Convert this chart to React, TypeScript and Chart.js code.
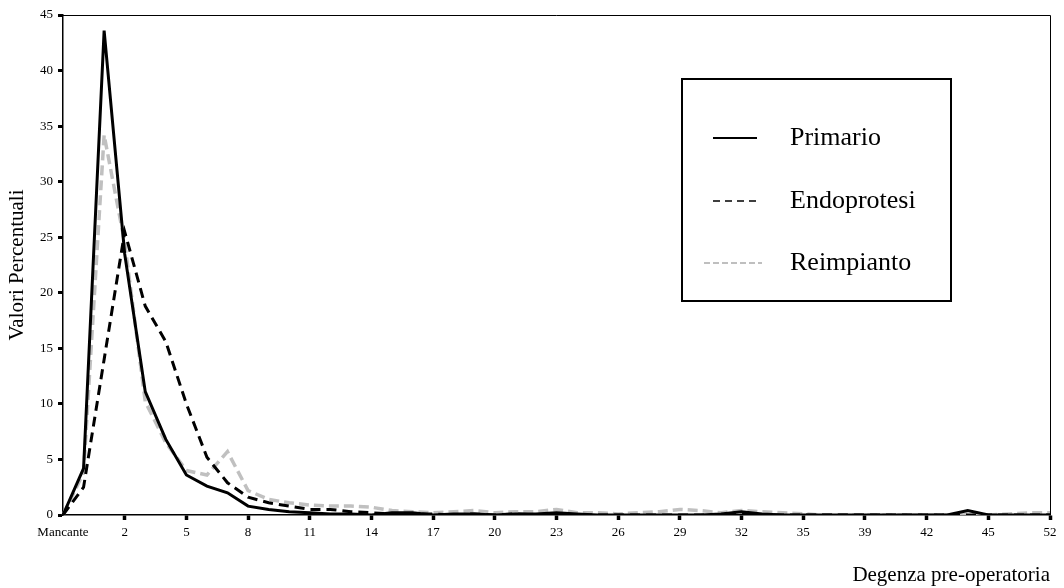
import { useEffect, useRef } from 'react'
import { Chart, registerables, type ChartConfiguration, type Plugin } from 'chart.js'

Chart.register(...registerables)

const serif = '"Liberation Serif", "Times New Roman", serif'

// categorie della degenza pre-operatoria (giorni)
const giorni = [
  'Mancante', '0', '1', '2', '3', '4', '5', '6', '7', '8', '9', '10', '11', '12', '13', '14',
  '15', '16', '17', '18', '19', '20', '21', '22', '23', '24', '25', '26', '27', '28', '29',
  '30', '31', '32', '33', '34', '35', '36', '38', '39', '40', '41', '42', '43', '44', '45',
  '47', '49', '52',
]

const primario = [
  0, 4.2, 43.6, 23.5, 11.1, 6.8, 3.6, 2.6, 2.0, 0.8, 0.5, 0.3, 0.2, 0.1, 0.1, 0.0,
  0.2, 0.2, 0.0, 0.1, 0.1, 0.0, 0.1, 0.1, 0.2, 0.1, 0.0, 0.0, 0.0, 0.0, 0.0,
  0.0, 0.1, 0.3, 0.1, 0.0, 0.0, 0.0, 0.0, 0.0, 0.0, 0.0, 0.0, 0.0, 0.4, 0.0,
  0.0, 0.0, 0.0,
]

const endoprotesi = [
  0, 2.5, 14.0, 25.5, 18.8, 15.6, 10.0, 5.2, 2.9, 1.6, 1.1, 0.8, 0.5, 0.5, 0.3, 0.2,
  0.1, 0.1, 0.1, 0.0, 0.1, 0.0, 0.1, 0.0, 0.1, 0.0, 0.0, 0.0, 0.0, 0.0, 0.0,
  0.0, 0.0, 0.1, 0.0, 0.0, 0.0, 0.0, 0.0, 0.0, 0.0, 0.0, 0.0, 0.0, 0.0, 0.0,
  0.0, 0.0, 0.0,
]

const reimpianto = [
  0, 3.8, 34.2, 24.5, 10.2, 6.5, 4.0, 3.6, 5.7, 2.2, 1.4, 1.1, 0.9, 0.8, 0.8, 0.7,
  0.4, 0.3, 0.2, 0.3, 0.4, 0.2, 0.3, 0.3, 0.5, 0.2, 0.2, 0.1, 0.2, 0.3, 0.5,
  0.4, 0.2, 0.4, 0.3, 0.2, 0.1, 0.0, 0.0, 0.0, 0.0, 0.0, 0.0, 0.0, 0.1, 0.0,
  0.1, 0.2, 0.2,
]

const yTicks = [0, 5, 10, 15, 20, 25, 30, 35, 40, 45]

// campioni della legenda: tratto, spessore, colore
const legendItems = [
  { label: 'Primario', color: '#000', width: 2, dash: [] as number[], x0: 713, x1: 757 },
  { label: 'Endoprotesi', color: '#000', width: 1.5, dash: [7, 5], x0: 713, x1: 757 },
  { label: 'Reimpianto', color: '#aaa', width: 1.5, dash: [6, 3], x0: 704, x1: 762 },
]

const framePlugin: Plugin<'line'> = {
  id: 'frame',
  afterDraw(chart) {
    const { ctx, chartArea: a } = chart
    ctx.save()
    ctx.strokeStyle = '#000'
    ctx.lineWidth = 1
    ctx.beginPath()
    ctx.moveTo(a.left, a.top + 0.5)
    ctx.lineTo(a.right + 0.5, a.top + 0.5)
    ctx.lineTo(a.right + 0.5, a.bottom)
    ctx.stroke()

    // riquadro legenda
    ctx.lineWidth = 2
    ctx.fillStyle = '#fff'
    ctx.fillRect(682, 79, 269, 222)
    ctx.strokeRect(682, 79, 269, 222)
    const rows = [138, 201, 263]
    ctx.font = `26px ${serif}`
    ctx.textBaseline = 'middle'
    legendItems.forEach((it, i) => {
      ctx.strokeStyle = it.color
      ctx.lineWidth = it.width
      ctx.setLineDash(it.dash)
      ctx.beginPath()
      ctx.moveTo(it.x0, rows[i])
      ctx.lineTo(it.x1, rows[i])
      ctx.stroke()
      ctx.setLineDash([])
      ctx.fillStyle = '#000'
      ctx.fillText(it.label, 790, rows[i])
    })
    ctx.restore()
  },
}

export default function App() {
  const canvasRef = useRef<HTMLCanvasElement | null>(null)
  const chartRef = useRef<Chart | null>(null)

  useEffect(() => {
    document.body.style.margin = '0'
    if (!canvasRef.current) return

    const config: ChartConfiguration<'line'> = {
      type: 'line',
      data: {
        labels: giorni,
        datasets: [
          {
            label: 'Primario',
            data: primario,
            borderColor: '#000',
            borderWidth: 3,
            pointRadius: 0,
            tension: 0,
          },
          {
            label: 'Endoprotesi',
            data: endoprotesi,
            borderColor: '#000',
            borderWidth: 3,
            borderDash: [10, 6],
            pointRadius: 0,
            tension: 0,
          },
          {
            label: 'Reimpianto',
            data: reimpianto,
            borderColor: '#c0c0c0',
            borderWidth: 3.5,
            borderDash: [10, 5],
            pointRadius: 0,
            tension: 0,
          },
        ],
      },
      options: {
        animation: false,
        responsive: false,
        layout: { padding: { top: 15, right: 14, left: 0, bottom: 0 } },
        scales: {
          x: {
            type: 'category',
            offset: false,
            afterFit: s => { s.height = 73 },
            border: { display: true, color: '#000', width: 1.5 },
            grid: {
              drawOnChartArea: false,
              tickLength: 5,
              tickWidth: 3.5,
              tickColor: c => (c.index % 3 === 0 && c.index > 0 ? '#000' : 'rgba(0,0,0,0)'),
            },
            ticks: {
              autoSkip: false,
              maxRotation: 0,
              color: '#000',
              padding: 5,
              font: { family: serif, size: 13 },
              callback: (_v, i) => (i % 3 === 0 ? giorni[i] : ''),
            },
            title: {
              display: true,
              text: 'Degenza pre-operatoria',
              align: 'end',
              color: '#000',
              font: { family: serif, size: 21 },
              padding: { top: 0, bottom: 0 },
            },
          },
          y: {
            min: 0,
            max: 45,
            afterFit: s => { s.width = 63 },
            afterBuildTicks: s => { s.ticks = yTicks.map(v => ({ value: v })) },
            border: { display: true, color: '#000', width: 1.5 },
            grid: {
              drawOnChartArea: false,
              tickLength: 5,
              tickWidth: 3,
              tickColor: '#000',
            },
            ticks: {
              color: '#000',
              padding: 5,
              font: { family: serif, size: 13 },
            },
            title: {
              display: true,
              text: 'Valori Percentuali',
              color: '#000',
              font: { family: serif, size: 21 },
              padding: { top: 5, bottom: 0 },
            },
          },
        },
        plugins: {
          legend: { display: false },
          tooltip: { enabled: false },
        },
      },
      plugins: [framePlugin],
    }

    chartRef.current = new Chart(canvasRef.current, config)
    return () => chartRef.current?.destroy()
  }, [])

  return (
    <div style={{ width: 1064, height: 588, background: '#fff' }}>
      <canvas
        ref={canvasRef}
        width={1064}
        height={588}
        role="img"
        aria-label="Degenza pre-operatoria: valori percentuali per Primario, Endoprotesi e Reimpianto"
      />
    </div>
  )
}
